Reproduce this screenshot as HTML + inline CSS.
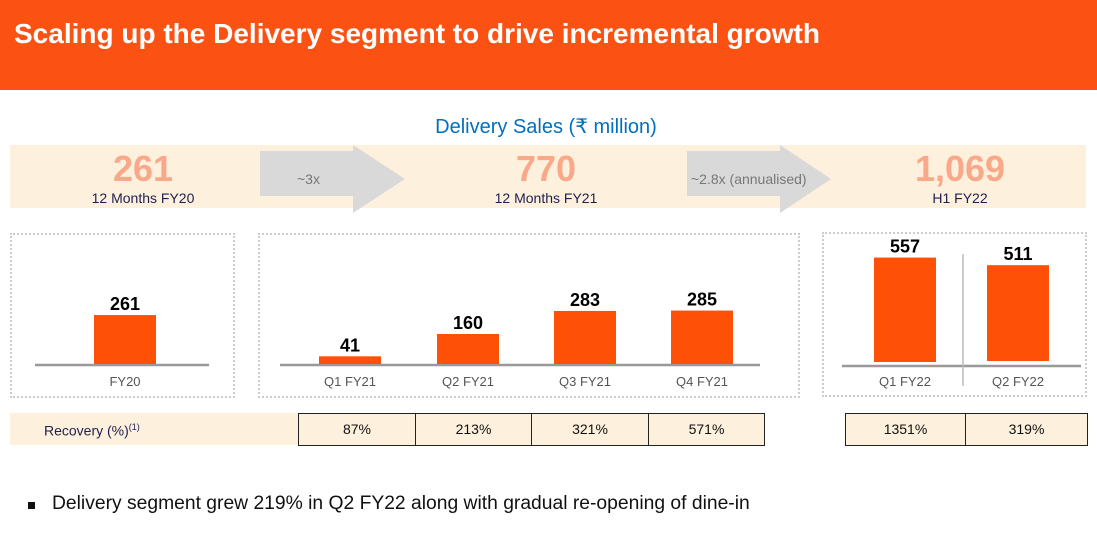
<!DOCTYPE html>
<html><head><meta charset="utf-8"><style>
body{margin:0;width:1097px;height:554px;overflow:hidden;background:#fff;font-family:"Liberation Sans",sans-serif;position:relative}
div{position:absolute;box-sizing:border-box}
.c{text-align:center}
</style></head><body>
<div style="left:0;top:0;width:1097px;height:90px;background:#fb5213"></div>
<div style="left:14px;top:18px;font-size:28px;font-weight:bold;color:#fff">Scaling up the Delivery segment to drive incremental growth</div>
<div class="c" style="left:346px;top:114px;width:400px;font-size:20px;color:#0070c0">Delivery Sales (₹ million)</div>
<div style="left:10px;top:145px;width:1076px;height:63px;background:#fdf0dc"></div>
<svg style="position:absolute;left:0;top:0" width="1097" height="554">
<polygon points="260,151 353,151 353,145 405,179 353,213 353,196 260,196" fill="#d9d9d9"/>
<polygon points="687,151 780,151 780,145 831,179 780,213 780,196 687,196" fill="#d9d9d9"/>
</svg>
<div style="left:297px;top:171px;font-size:14px;color:#777">~3x</div>
<div style="left:691px;top:171px;font-size:14px;color:#777">~2.8x (annualised)</div>
<div class="c" style="left:43px;top:150px;width:200px;font-size:36px;font-weight:bold;color:#f9a88a;line-height:38px">261</div>
<div class="c" style="left:43px;top:190px;width:200px;font-size:14px;color:#1f1f4f">12 Months FY20</div>
<div class="c" style="left:446px;top:150px;width:200px;font-size:36px;font-weight:bold;color:#f9a88a;line-height:38px">770</div>
<div class="c" style="left:446px;top:190px;width:200px;font-size:14px;color:#1f1f4f">12 Months FY21</div>
<div class="c" style="left:860px;top:150px;width:200px;font-size:36px;font-weight:bold;color:#f9a88a;line-height:38px">1,069</div>
<div class="c" style="left:860px;top:190px;width:200px;font-size:14px;color:#1f1f4f">H1 FY22</div>
<div style="left:10px;top:233px;width:225px;height:165px;border:2px dotted #ccc"></div>
<div style="left:258px;top:233px;width:542px;height:165px;border:2px dotted #ccc"></div>
<div style="left:822px;top:232px;width:265px;height:165px;border:2px dotted #ccc"></div>
<svg id="chart" style="position:absolute;left:0;top:0" width="1097" height="554"></svg>
<div style="left:10px;top:413px;width:288px;height:32px;background:#fdf0dc"></div>
<div style="left:44px;top:422px;font-size:14px;color:#1f1f4f">Recovery (%)<sup style="font-size:9px">(1)</sup></div>
<div id="rec"></div>
<div style="left:28px;top:502px;width:7px;height:7px;background:#111"></div>
<div style="left:52px;top:493px;font-size:19.3px;color:#111">Delivery segment grew 219% in Q2 FY22 along with gradual re-opening of dine-in</div>
<script>
const categories=["FY20","Q1 FY21","Q2 FY21","Q3 FY21","Q4 FY21","Q1 FY22","Q2 FY22"];
const values=[261,41,160,283,285,557,511];
const recoveryLabels=["87%","213%","321%","571%","1351%","319%"];
const barX=[94,319,437,554,671,874,987];
const baseY=[364,364,364,364,364,362,361];
const scale=0.1875;
function y(v,i){return baseY[i]-v*scale;}
const svg=document.getElementById('chart');
const NS='http://www.w3.org/2000/svg';
function mk(t,a){const e=document.createElementNS(NS,t);for(const k in a)e.setAttribute(k,a[k]);svg.appendChild(e);return e;}
[[35,209,365],[280,760,365],[842,1081,366]].forEach(l=>{const e=mk('line',{x1:l[0],x2:l[1],y1:l[2],y2:l[2],stroke:'#999','stroke-width':2.5});

});
const d=mk('line',{x1:963,x2:963,y1:254,y2:386,stroke:'#bbb','stroke-width':1.5});


categories.forEach((c,i)=>{
 const top=y(values[i],i);
 const r=mk('rect',{x:barX[i],y:top,width:62,height:baseY[i]-top,fill:'#fe5007'});
 
 
 const t=mk('text',{x:barX[i]+31,y:top-5,'text-anchor':'middle','font-size':18,'font-weight':'bold',fill:'#000'});t.textContent=values[i];
 
 
 const l=mk('text',{x:barX[i]+31,y:386,'text-anchor':'middle','font-size':13,fill:'#555'});l.textContent=c;
 
 
});
const cells=[[298,117],[415,116],[531,117],[648,116],[845,120],[965,122]];
const rec=document.getElementById('rec');
recoveryLabels.forEach((v,i)=>{const e=document.createElement('div');
 
 
 e.style.cssText=`left:${cells[i][0]}px;top:413px;width:${cells[i][1]+1}px;height:33px;border:1.5px solid #222;background:#fdf0dc;text-align:center;line-height:30px;font-size:14px;color:#111`;
 e.textContent=v;rec.appendChild(e);});
</script>
</body></html>
